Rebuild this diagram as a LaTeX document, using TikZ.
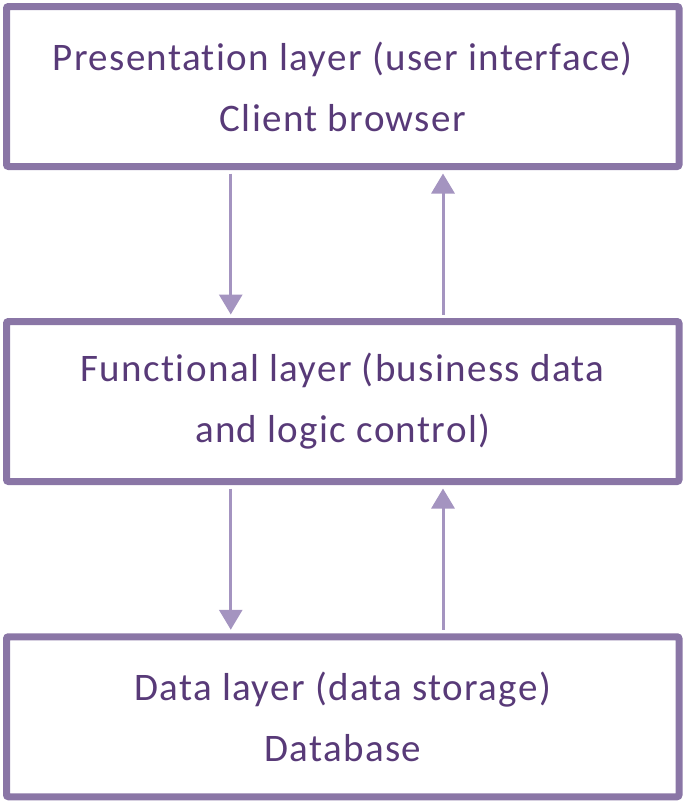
\documentclass[tikz,border=0pt]{standalone}
\usepackage{fontspec}
\setmainfont{Carlito}[LetterSpace=3.5,RawFeature=-liga]
\usetikzlibrary{arrows.meta}
\tikzset{
    % Style for the three layer boxes
    layer box/.style={
        draw=layerBorder,
        line width=7pt,
        rounded corners=2pt,
        minimum width=672.5pt,
        minimum height=160pt,
        text=layerText,
        font=\fontsize{39}{61}\selectfont,
        align=center
    },
    % Style for the arrows between layers
    flow arrow/.style={
        draw=flowArrow,
        line width=3pt,
        -{Triangle[width=23pt,length=20pt]},
        shorten >=3.5pt,
        shorten <=3.5pt
    }
}
\definecolor{layerBorder}{RGB}{138,118,166}
\definecolor{layerText}{RGB}{88,58,120}
\definecolor{flowArrow}{RGB}{164,148,192}

\begin{document}
\begin{tikzpicture}[x=1pt,y=1pt]

% Set the canvas size
\path[use as bounding box] (0,0) rectangle (685,-804);

% Layer boxes
\node[layer box] (presentation) at (342.75,-86.5)
    {Presentation layer (user interface)\\Client browser};
\node[layer box] (functional) at (342.75,-401.5)
    {Functional layer (business data\\and logic control)};
\node[layer box] (data) at (342.75,-716.75)
    {Data layer (data storage)\\Database};

% Requests going down
\draw[flow arrow] ([xshift=-112pt]presentation.south) -- ([xshift=-112pt]functional.north);
\draw[flow arrow] ([xshift=-112pt]functional.south) -- ([xshift=-112pt]data.north);

% Responses going up
\draw[flow arrow] ([xshift=100.25pt]functional.north) -- ([xshift=100.25pt]presentation.south);
\draw[flow arrow] ([xshift=100.25pt]data.north) -- ([xshift=100.25pt]functional.south);

\end{tikzpicture}
\end{document}
